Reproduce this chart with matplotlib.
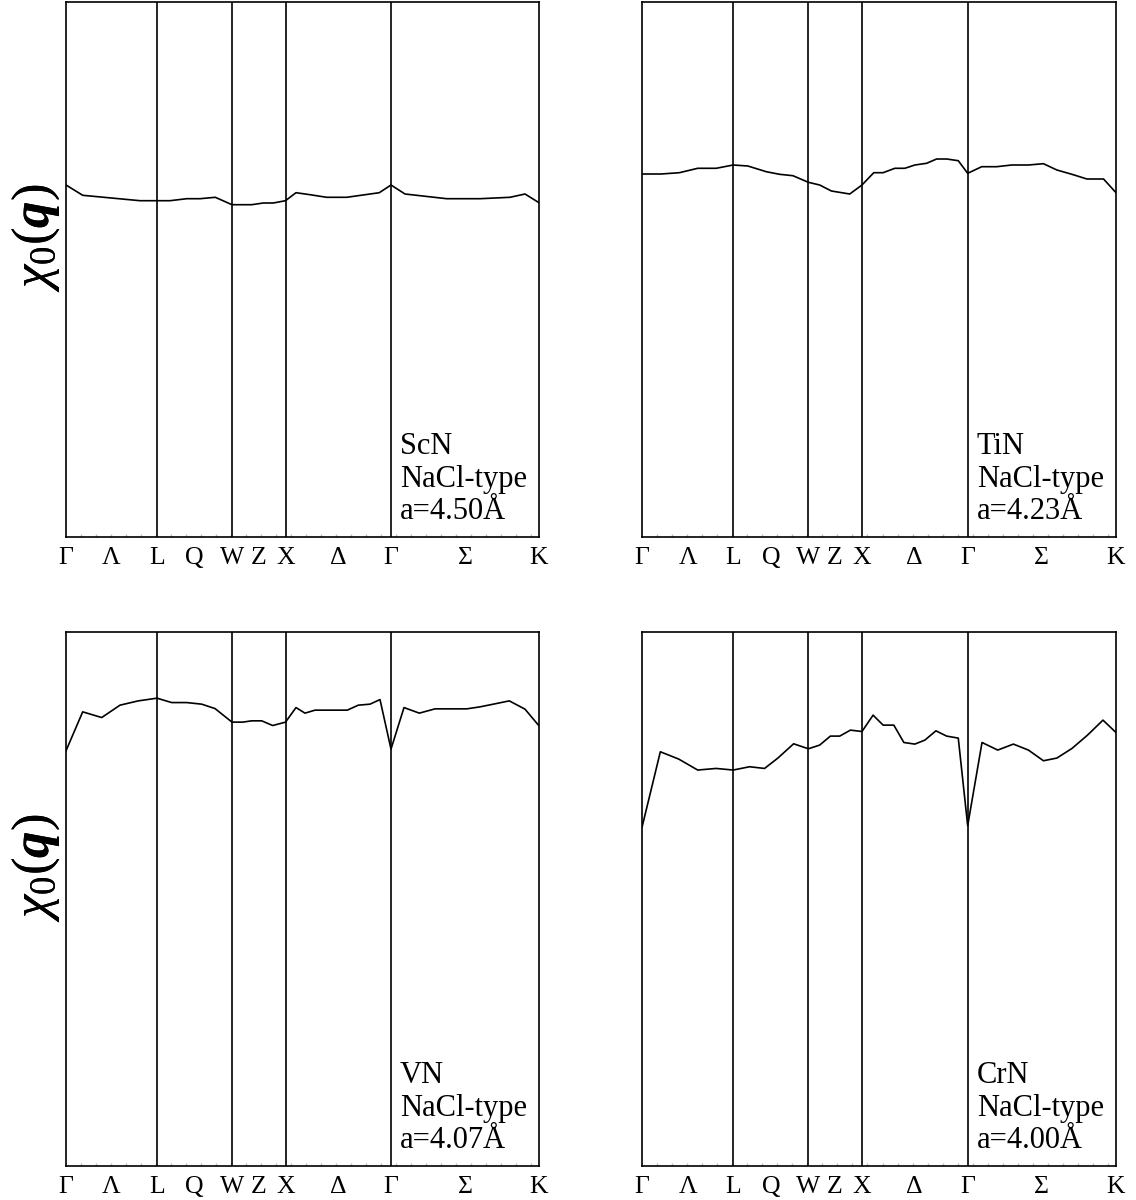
"""chi_0(q) along the fcc high-symmetry path for four NaCl-type nitrides."""
import matplotlib
matplotlib.use("Agg")
import matplotlib.pyplot as plt
from matplotlib.ticker import MultipleLocator

plt.rcParams["font.family"] = ["Liberation Serif", "DejaVu Serif"]
plt.rcParams["mathtext.fontset"] = "custom"
plt.rcParams["mathtext.rm"] = "Liberation Serif"
plt.rcParams["mathtext.it"] = "Liberation Serif:italic"
plt.rcParams["mathtext.bf"] = "Liberation Serif:bold:italic"

# high-symmetry points and path labels (path length in arbitrary units)
sym_k = [0, 91, 166, 219.5, 325, 473]
tick_k = [0, 45.5, 91, 128.5, 166, 192.7, 219.5, 272, 325, 399, 473]
tick_lab = ["Γ", "Λ", "L", "Q", "W", "Z", "X", "Δ", "Γ", "Σ", "K"]

scn_k = [0, 16.7, 74, 91, 104, 120.7, 134, 149.3, 166, 185.7, 197.3, 207.3,
         219.5, 230, 244, 260.7, 280.7, 313.3, 325, 339, 380.7, 414, 444,
         459, 473]
scn_chi = [352, 341.7, 336.3, 336.3, 336.3, 338.3, 338.3, 339.7, 332.3,
           332.3, 334, 334, 336.3, 344.3, 342.3, 339.7, 339.7, 344.3, 352,
           343, 338.3, 338.3, 339.7, 343, 334.3]

tin_k = [0, 19, 37.3, 55.6, 74, 91, 105.6, 124, 137.3, 150.6, 166, 177.3,
         189, 207.3, 219.5, 231.3, 240.6, 252.3, 262.3, 272.3, 284, 294, 304,
         315.6, 325, 339, 354, 369, 385.6, 400.6, 414, 429, 444, 460.6, 473]
tin_chi = [363, 363, 364.3, 368.7, 368.7, 372, 371, 365.3, 362.7, 361.3,
           354.7, 352, 346, 343, 352, 364.3, 364.3, 368.7, 368.7, 372, 373.7,
           378, 378, 376.3, 363.7, 370.3, 370.3, 372, 372, 373.3, 367, 362.7,
           358, 358, 344.3]

vn_k = [0, 16.7, 35.7, 54, 72.3, 91, 105.7, 120.7, 135.7, 149, 166, 176.7,
        185.7, 195.7, 206.7, 219.5, 230, 239, 249, 281.3, 292.3, 304, 314,
        325, 338, 353.3, 369, 400.7, 414, 427.3, 443.3, 459, 473]
vn_chi = [416, 455, 449.3, 461.7, 466, 468.7, 464.3, 464.3, 462.7, 458.3,
          444.7, 444.7, 446, 446, 441.3, 444.7, 459.3, 453.7, 456.7, 456.7,
          461.7, 462.7, 467.3, 417.7, 459.3, 453.7, 458, 458, 460, 462.7,
          466, 457.7, 441]

crn_k = [0, 18.3, 36.6, 55.6, 74, 91, 107.3, 122.3, 135.6, 151.3, 166, 177.3,
         188, 197.3, 208, 219.5, 230.6, 240.6, 251.3, 261.3, 272.3, 282.3,
         293.3, 304, 315.6, 325, 339.3, 355, 370.6, 385.6, 400.6, 414, 429,
         444.6, 460, 473]
crn_chi = [339.3, 415, 407.7, 396.7, 398.3, 396.7, 400, 398.3, 408.7, 423,
           418, 421.7, 430.7, 430.7, 436.7, 435.3, 451.7, 441.7, 441.7, 424.3,
           422.7, 426.7, 436, 430.7, 428.7, 341, 424.3, 416.7, 422.7, 416.7,
           406, 408.7, 418.3, 431.7, 446.7, 434.3]

names = ["ScN", "TiN", "VN", "CrN"]
lattice = ["4.50", "4.23", "4.07", "4.00"]

fig = plt.figure(figsize=(11.36, 12), dpi=100)
W, H = 1136, 1200
# axes boxes in pixels: left, top, right, bottom
boxes = [(66, 2, 539, 537), (642, 2, 1116, 537),
         (66, 632, 539, 1166), (642, 632, 1116, 1166)]
data = [(scn_k, scn_chi), (tin_k, tin_chi), (vn_k, vn_chi), (crn_k, crn_chi)]

for i, ((l, t, r, b), (k, chi)) in enumerate(zip(boxes, data)):
    ax = fig.add_axes([l / W, 1 - b / H, (r - l) / W, (b - t) / H])
    ax.plot(k, chi, color="black", lw=1.2)
    for x in sym_k[1:-1]:
        ax.axvline(x, color="black", lw=1.2)
    ax.set_xlim(sym_k[0], sym_k[-1])
    ax.set_ylim(0, 535)
    ax.set_yticks([])
    ax.set_xticks(tick_k)
    ax.set_xticklabels(tick_lab, fontsize=18.5)
    ax.tick_params(axis="x", which="major", length=0, pad=7)
    ax.xaxis.set_minor_locator(MultipleLocator(15))
    ax.tick_params(axis="x", which="minor", direction="in", length=2.5,
                   color="#bbbbbb", width=1)
    for s in ax.spines.values():
        s.set_linewidth(1.2)
    ax.text(0.706, 0.02, f"{names[i]}\nNaCl-type\na={lattice[i]}Å",
            transform=ax.transAxes, ha="left", va="bottom", fontsize=22,
            linespacing=1.17)
    fig.text(36 / W, 1 - (t + 236) / H, r"$\chi_0(\mathbf{q})$",
             rotation=90, ha="center", va="center", fontsize=38)

fig.savefig("out.png", dpi=100)
